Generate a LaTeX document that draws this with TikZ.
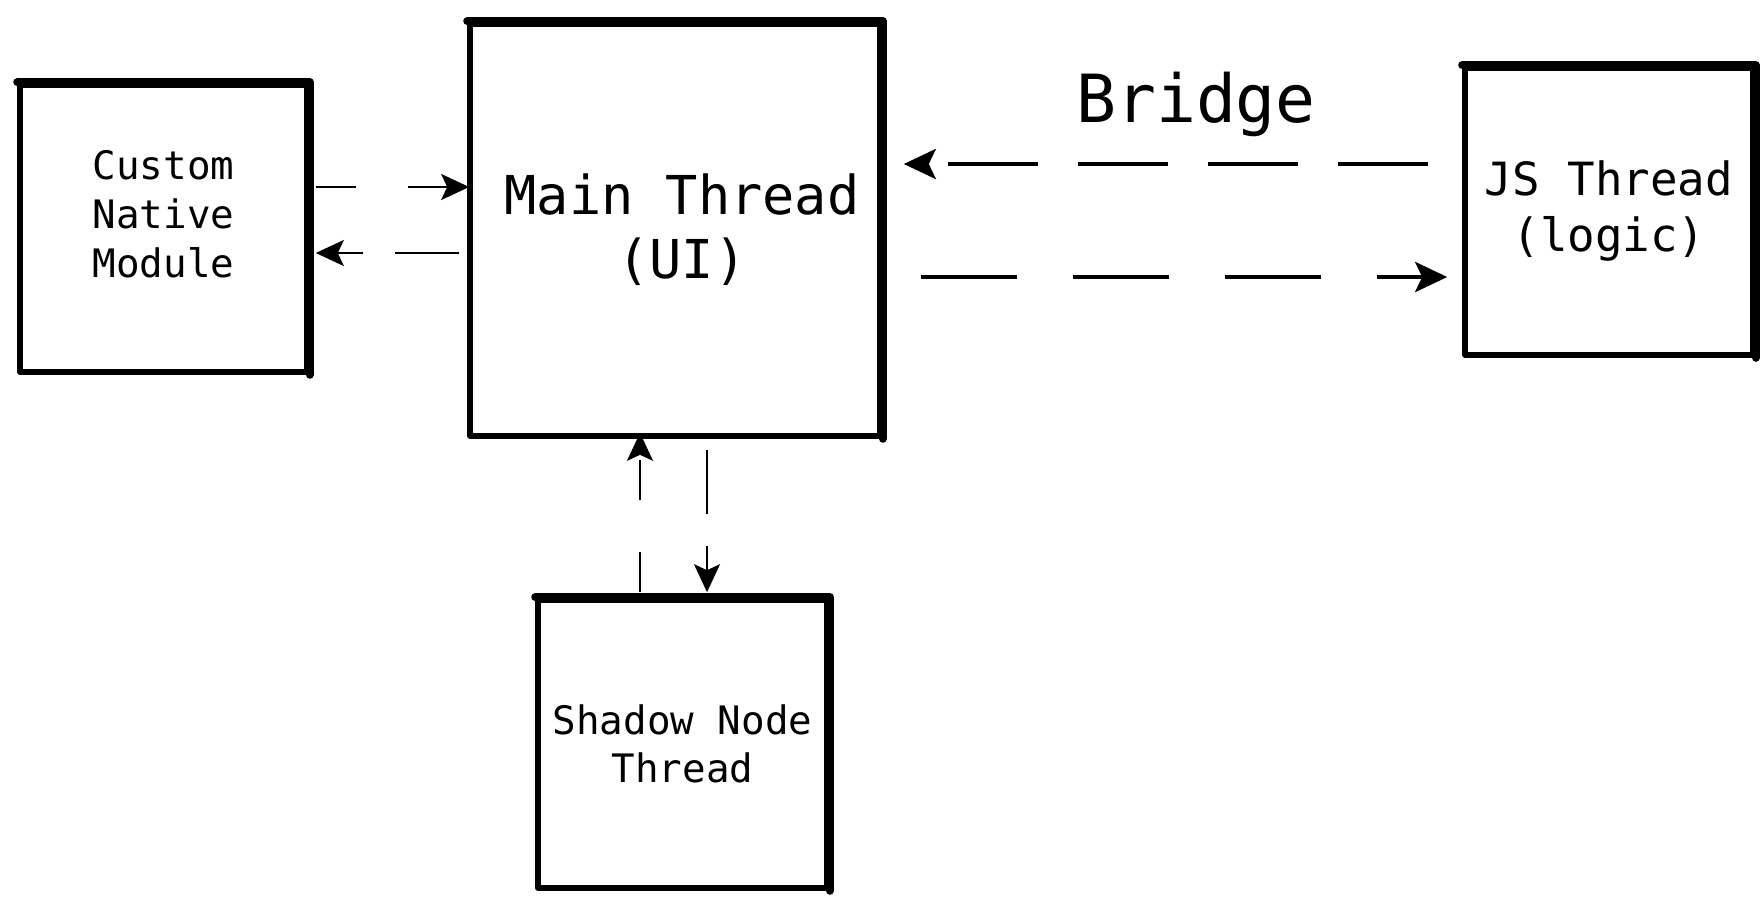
\documentclass[tikz,border=0pt]{standalone}
\usepackage{fontspec}
\setmonofont{DejaVu Sans Mono}
\usetikzlibrary{arrows.meta,positioning,calc}
\tikzstyle{thread}=[draw,line width=2.8pt,line join=round,inner sep=0pt,align=center]
\tikzstyle{link}=[line width=1.1pt,-{Stealth[length=14pt,width=13pt,inset=3pt]}]
\tikzstyle{bridge}=[line width=2pt,-{Stealth[length=16pt,width=15pt,inset=3.5pt]}]

\begin{document}
\begin{tikzpicture}[x=0.5pt,y=-0.5pt]
      \useasboundingbox (0,0) rectangle (1763,901);
      \node[thread,minimum width=143.5pt,minimum height=143.5pt] at (163.5,228.5) (native) {};
      \node[font=\ttfamily\fontsize{19.6}{24.5}\selectfont,align=center] at ([yshift=7.3pt]native.center) (nativetext) {Custom\\Native\\Module};
      \node[thread,minimum width=205pt,minimum height=206pt] at (675,230) (main) {};
      \node[font=\ttfamily\fontsize{26.8}{32}\selectfont,align=center] at ([xshift=3.5pt]main.center) (maintext) {Main Thread\\(UI)};
      \node[thread,minimum width=144pt,minimum height=143.5pt,font=\ttfamily\fontsize{22.9}{28}\selectfont] at (1609,211.5) (js) {JS Thread\\(logic)};
      \node[thread,minimum width=144.5pt,minimum height=144pt,font=\ttfamily\fontsize{19.6}{24}\selectfont] at (682.5,744) (shadow) {Shadow Node\\Thread};
      \node[anchor=base,font=\ttfamily\fontsize{33.2}{40}\selectfont] at (1196,122) (bridgelabel) {Bridge};
      % heavier top and right strokes
      \foreach \n in {native,main,js,shadow}
        \draw[line width=4pt,line cap=round,line join=round] (\n.north west) -- (\n.north east) -- (\n.south east);
      % native <-> main
      \draw[link,dash pattern=on 20pt off 26pt,shorten <=3pt,shorten >=-1pt] (native.east |- 0,187) -- (main.west |- 0,187);
      \draw[link,dash pattern=on 32pt off 16pt,shorten <=4pt,shorten >=3pt] (main.west |- 0,253) -- (native.east |- 0,253);
      % main <-> shadow
      \draw[link,line width=0.9pt,dash pattern=on 20pt off 26pt,shorten <=2.5pt,shorten >=-3pt] (shadow.north -| 640,0) -- (main.south -| 640,0);
      \draw[link,line width=0.9pt,dash pattern=on 32pt off 16pt,shorten <=5.5pt,shorten >=2.5pt] (main.south -| 707,0) -- (shadow.north -| 707,0);
      % main <-> js over the bridge
      \draw[bridge,dash pattern=on 45pt off 20pt,shorten <=17pt,shorten >=10.5pt] (js.west |- 0,164) -- (main.east |- 0,164);
      \draw[bridge,line width=2.4pt,dash pattern=on 48pt off 28pt,shorten <=19pt,shorten >=7.5pt] (main.east |- 0,277) -- (js.west |- 0,277);
\end{tikzpicture}
\end{document}
